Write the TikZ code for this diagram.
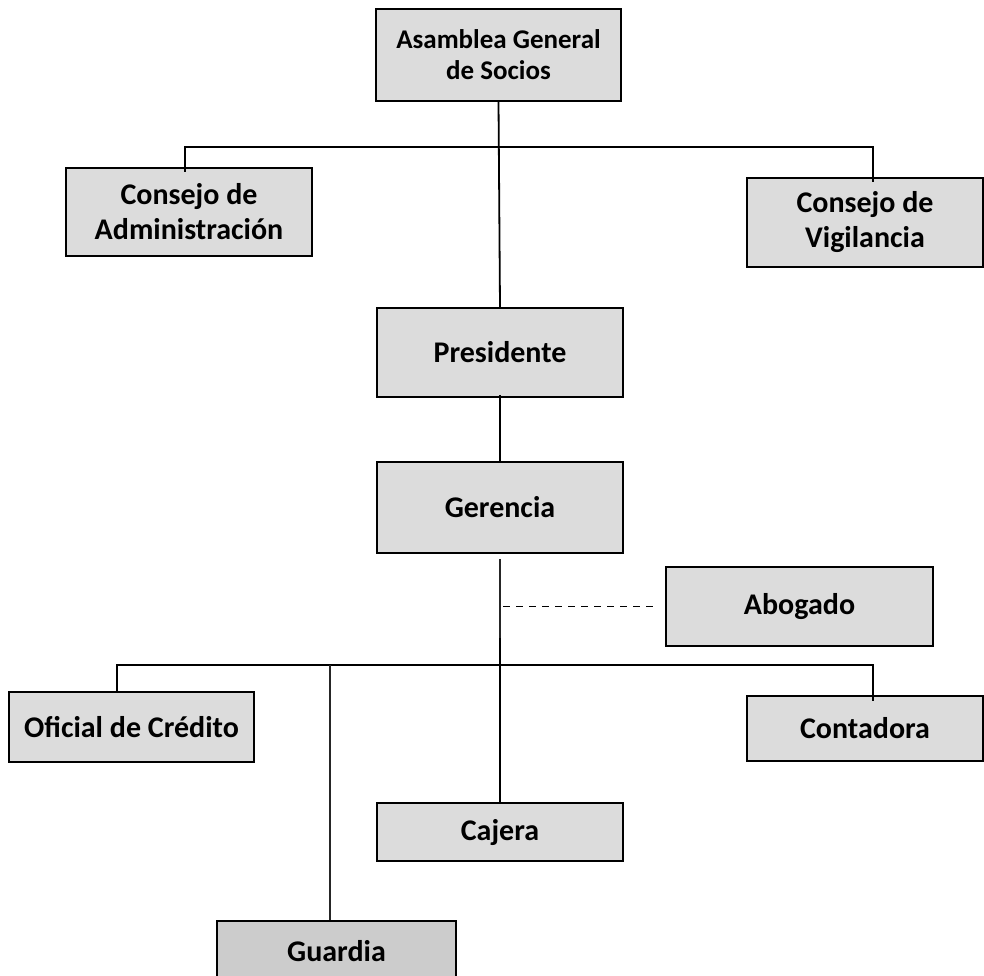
\documentclass[tikz,border=0pt]{standalone}
\usepackage{fontspec}
\setmainfont{Carlito}
\usetikzlibrary{calc}
\definecolor{boxgray}{RGB}{220,220,220}
\tikzset{
  orgbox/.style={draw=black, line width=1.8pt, fill=boxgray, align=center,
    inner sep=0pt, font=\fontsize{30}{35}\selectfont\bfseries},
  link/.style={draw=black, line width=1.8pt},
  thinlink/.style={draw=black!85, line width=1.3pt},
  dashlink/.style={draw=black, line width=1.6pt, dash pattern=on 7pt off 6pt},
}
\begin{document}
\begin{tikzpicture}[x=1pt,y=-1pt]
\useasboundingbox (0,0) rectangle (984,975);
\clip (0,0) rectangle (984,975);
\node[orgbox, minimum width=245pt, minimum height=92pt, font=\fontsize{27}{31}\selectfont\bfseries] (asam) at (498.5,55) {Asamblea General\\de Socios};
\node[orgbox, minimum width=246pt, minimum height=88pt] (cadm) at (189,212) {Consejo de\\Administración};
\node[orgbox, minimum width=236pt, minimum height=89pt] (cvig) at (865,222.5) {Consejo de\\Vigilancia};
\node[orgbox, minimum width=246pt, minimum height=89pt] (pres) at (500,352.5) {Presidente};
\node[orgbox, minimum width=246pt, minimum height=91pt] (ger) at (500,507.5) {Gerencia};
\node[orgbox, minimum width=267pt, minimum height=79pt] (abog) at (799.5,606.5) {Abogado};
\node[orgbox, minimum width=245pt, minimum height=70pt] (ofic) at (131.5,727) {Oficial de Crédito};
\node[orgbox, minimum width=236pt, minimum height=65pt] (cont) at (865,728.5) {Contadora};
\node[orgbox, minimum width=246pt, minimum height=58pt] (caj) at (500,832) {Cajera};
\node[orgbox, minimum width=239pt, minimum height=60pt, fill=black!20] (guard) at (336.5,951) {Guardia};

\coordinate (j1) at (498.5,147);
\coordinate (j2) at (500,665);
\coordinate (j2top) at (500,638);

% top level
\draw[link] (asam.south) -- (pres.north);
\draw[link] (j1) -| ([xshift=-4pt,yshift=-5pt]cadm.north);
\draw[link] (j1) -| ([xshift=8pt,yshift=-5pt]cvig.north);
\draw[link] ([yshift=3pt]pres.south) -- (ger.north);

% gerencia branch
\draw[thinlink] ([yshift=-5pt]ger.south) -- (j2);
\draw[black, line width=2.6pt] (j2top) -- (j2);
\draw[link] (j2) -- (caj.north);
\draw[dashlink] ([xshift=3pt]ger.south |- abog.west) -- ([xshift=-8pt]abog.west);

\draw[link] (j2) -| ([xshift=-14.5pt]ofic.north);
\draw[link] (j2) -| ([xshift=8pt,yshift=-6pt]cont.north);
\draw[thinlink] ([xshift=-6.5pt]guard.north |- j2) -- ([xshift=-6.5pt]guard.north);
\end{tikzpicture}
\end{document}
